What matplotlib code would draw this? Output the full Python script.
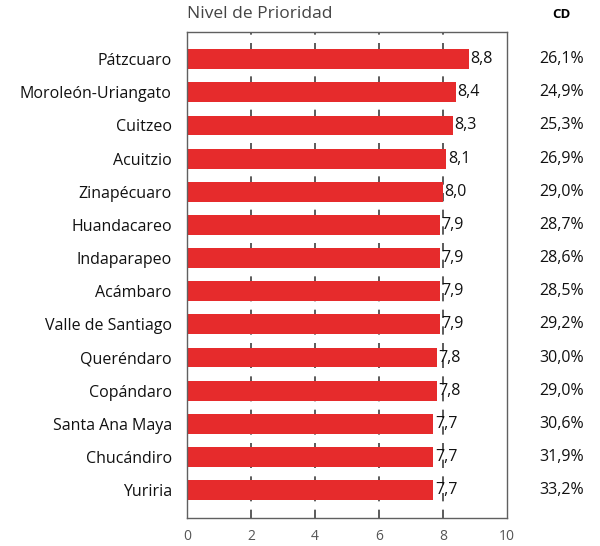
import numpy as np
import matplotlib.pyplot as plt

plt.rcParams['font.family'] = ['Open Sans', 'DejaVu Sans']

municipios = ['Pátzcuaro', 'Moroleón-Uriangato', 'Cuitzeo', 'Acuitzio', 'Zinapécuaro',
              'Huandacareo', 'Indaparapeo', 'Acámbaro', 'Valle de Santiago', 'Queréndaro',
              'Copándaro', 'Santa Ana Maya', 'Chucándiro', 'Yuriria']
prioridad = [8.8, 8.4, 8.3, 8.1, 8.0, 7.9, 7.9, 7.9, 7.9, 7.8, 7.8, 7.7, 7.7, 7.7]
cd = ['26,1%', '24,9%', '25,3%', '26,9%', '29,0%', '28,7%', '28,6%', '28,5%', '29,2%',
      '30,0%', '29,0%', '30,6%', '31,9%', '33,2%']
xticks = [0, 2, 4, 6, 8, 10]

fig = plt.figure(figsize=(6.0, 5.46), dpi=100)
ax = fig.add_axes([187 / 600, 28 / 546, 320 / 600, 486 / 546])

y = np.arange(len(municipios))
ax.barh(y, prioridad, height=0.6, color='#e62b2c', zorder=2)

# dashed reference lines at the inner ticks
for g in xticks[1:-1]:
    ax.axvline(g, color='#404040', linestyle=(0, (5, 5)), linewidth=1.2, zorder=1)

for yi, v, c in zip(y, prioridad, cd):
    ax.text(v + 0.05, yi, f'{v:.1f}'.replace('.', ','), va='center', ha='left',
            fontsize=11.5, color='#111111', zorder=3)
    ax.text(1.17, yi, c, transform=ax.get_yaxis_transform(), va='center', ha='center',
            fontsize=11.5, color='#111111')

ax.text(1.17, 1.035, 'CD', transform=ax.transAxes, ha='center', va='center',
        fontsize=9.5, fontweight='bold')
ax.text(0.0, 1.02, 'Nivel de Prioridad', transform=ax.transAxes, ha='left', va='bottom',
        fontsize=12.5, color='#444444')

ax.set_xlim(0, 10)
ax.set_ylim(len(municipios) - 1 + 0.84, -0.82)
ax.set_xticks(xticks)
ax.set_yticks(y)
ax.set_yticklabels(municipios, fontsize=11.5)
ax.tick_params(axis='x', length=0, pad=8, labelcolor='#555555', labelsize=10)
ax.tick_params(axis='y', length=0, pad=11, labelcolor='#111111')
for s in ax.spines.values():
    s.set_color('#606060')
    s.set_linewidth(1)

fig.savefig('out.png', dpi=100)
